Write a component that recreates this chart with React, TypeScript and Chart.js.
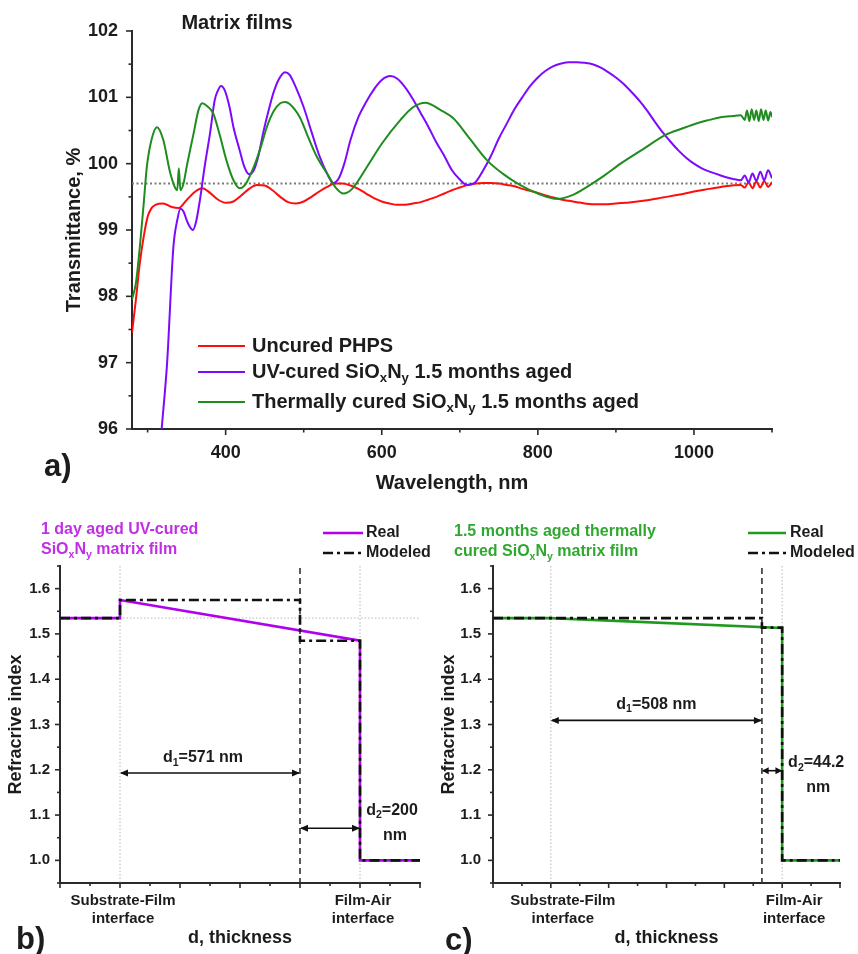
import React, { useEffect, useRef } from 'react';
import { Chart, registerables } from 'chart.js';
Chart.register(...registerables);

const FONT = '"Liberation Sans", Arial, Helvetica, sans-serif';
const AXIS = '#2a2a2a';
const TXT = '#1c1c1c';
const bold = (s: number) => `bold ${s}px ${FONT}`;

// ---------------- Panel a: transmittance spectra ----------------
const wlRed = [
  280, 285, 290, 295, 300, 305, 310, 320, 330, 340,
  345, 350, 360, 370, 380, 390, 400, 410, 420, 430,
  440, 450, 460, 470, 480, 490, 500, 510, 520, 530,
  540, 550, 560, 570, 580, 590, 600, 610, 620, 630,
  640, 650, 660, 670, 680, 690, 700, 710, 720, 730,
  740, 750, 760, 770, 780, 790, 800, 810, 820, 830,
  840, 850, 860, 870, 880, 890, 900, 920, 940, 960,
  980, 1000, 1020, 1040, 1060, 1065, 1070, 1075, 1080, 1085,
  1090, 1095, 1100,
];
const tRed = [
  97.45, 97.95, 98.5, 98.9, 99.2, 99.33, 99.38, 99.4, 99.35, 99.33,
  99.38, 99.45, 99.57, 99.63, 99.56, 99.46, 99.41, 99.43, 99.52, 99.62,
  99.68, 99.67, 99.6, 99.5, 99.42, 99.4, 99.43, 99.5, 99.58, 99.65,
  99.7, 99.7, 99.67, 99.62, 99.55, 99.48, 99.43, 99.4, 99.38, 99.38,
  99.4, 99.42, 99.46, 99.5, 99.55, 99.6, 99.64, 99.68, 99.7, 99.71,
  99.71, 99.7, 99.68, 99.66, 99.62, 99.59, 99.56, 99.52, 99.49, 99.46,
  99.44, 99.42, 99.4, 99.39, 99.39, 99.39, 99.4, 99.42, 99.45, 99.49,
  99.53, 99.58, 99.62, 99.66, 99.68, 99.64, 99.72, 99.63, 99.73, 99.64,
  99.74, 99.65, 99.72,
];

const wlUV = [
  318, 325, 333, 338, 342, 346, 350, 354, 358, 362,
  367, 373, 380, 386, 390, 394, 399, 405, 410, 418,
  424, 430, 436, 442, 448, 455, 461, 468, 476, 482,
  490, 500, 510, 520, 530, 538, 545, 552, 560, 570,
  580, 590, 600, 611, 620, 630, 640, 650, 660, 670,
  680, 690, 700, 709, 720, 730, 740, 750, 760, 770,
  780, 790, 800, 810, 820, 830, 840, 850, 860, 870,
  880, 890, 900, 910, 920, 930, 940, 950, 960, 970,
  980, 990, 1000, 1010, 1020, 1030, 1040, 1050, 1060, 1065,
  1070, 1075, 1080, 1085, 1090, 1095, 1100,
];
const tUV = [
  96.0, 97.0, 98.74, 99.15, 99.32, 99.28, 99.15, 99.05, 99.0, 99.12,
  99.45, 99.95, 100.46, 100.96, 101.1, 101.17, 101.1, 100.85, 100.55, 100.2,
  99.95, 99.84, 99.9, 100.12, 100.46, 100.8, 101.06, 101.27, 101.38, 101.34,
  101.15, 100.85, 100.48, 100.12, 99.85, 99.71, 99.78, 100.0, 100.36, 100.7,
  100.93, 101.12, 101.26, 101.32, 101.28, 101.15, 100.97, 100.76, 100.55, 100.32,
  100.12, 99.9, 99.76, 99.68, 99.72, 99.9, 100.12, 100.38, 100.6, 100.82,
  101.0, 101.17, 101.3, 101.4, 101.47, 101.51, 101.53, 101.53, 101.52, 101.5,
  101.45, 101.38, 101.3, 101.2, 101.08, 100.95, 100.8, 100.63, 100.47, 100.33,
  100.2, 100.09, 100.0, 99.93, 99.88, 99.84, 99.8, 99.77, 99.75, 99.82,
  99.72, 99.85, 99.74, 99.88, 99.75, 99.9, 99.78,
];

const wlTh = [
  280, 285, 290, 295, 299, 305, 312, 320, 329, 336,
  338, 340, 342, 346, 350, 359, 365, 370, 376, 384,
  392, 401, 410, 418, 426, 436, 445, 453, 462, 470,
  476, 482, 495, 505, 517, 530, 541, 551, 562, 581,
  600, 624, 640, 656, 675, 692, 710, 735, 755, 777,
  800, 825, 845, 863, 885, 906, 935, 963, 985, 1004,
  1020, 1034, 1050, 1060, 1065, 1068, 1071, 1074, 1077, 1080,
  1083, 1086, 1089, 1092, 1095, 1098, 1100,
];
const tTh = [
  97.95, 98.2, 98.74, 99.4, 99.95, 100.36, 100.55, 100.36, 99.86, 99.62,
  99.6, 99.93, 99.6, 99.7, 99.95, 100.46, 100.8, 100.91, 100.87, 100.76,
  100.45, 100.05, 99.75, 99.63, 99.7, 99.95, 100.25, 100.56, 100.8, 100.91,
  100.93, 100.9, 100.7, 100.42, 100.1, 99.85, 99.64, 99.55, 99.62, 99.95,
  100.3, 100.66, 100.85, 100.92, 100.81, 100.68, 100.42, 100.05, 99.85, 99.68,
  99.55, 99.47, 99.53, 99.65, 99.82, 100.0, 100.22, 100.43, 100.53, 100.61,
  100.66, 100.7, 100.72, 100.73, 100.66, 100.8, 100.64, 100.82, 100.66, 100.8,
  100.64, 100.82, 100.66, 100.8, 100.65, 100.78, 100.7,
];

const refWl = [280, 1100];
const refT = [99.7, 99.7];

const aXTicks = [400, 600, 800, 1000];
const aXMinor = [300, 500, 700, 900, 1100];
const aYTicks = [96, 97, 98, 99, 100, 101, 102];
const aYMinor = [96.5, 97.5, 98.5, 99.5, 100.5, 101.5];
const aLegend = [
  'Uncured PHPS',
  'UV-cured SiO_{x}N_{y} 1.5 months aged',
  'Thermally cured SiO_{x}N_{y} 1.5 months aged',
];

const RED = '#ff0d0d';
const VIOLET = '#7d0aff';
const GREEN = '#1f8c1f';

// ---------------- Panels b, c: refractive index profiles ----------------
const bRealX = [0, 2, 2, 10, 10, 12];
const bRealY = [1.535, 1.535, 1.575, 1.485, 1.0, 1.0];
const bModX = [0, 2, 2, 8, 8, 10, 10, 12];
const bModY = [1.535, 1.535, 1.575, 1.575, 1.485, 1.485, 1.0, 1.0];
const bInterfaces = [2, 10];
const bBoundary = 8;

const cRealX = [0, 2, 10, 10, 12];
const cRealY = [1.535, 1.535, 1.513, 1.0, 1.0];
const cModX = [0, 9.3, 9.3, 10, 10, 12];
const cModY = [1.535, 1.535, 1.514, 1.514, 1.0, 1.0];
const cInterfaces = [2, 10];
const cBoundary = 9.3;

const pYTicks = [1.0, 1.1, 1.2, 1.3, 1.4, 1.5, 1.6];
const pYMinor = [0.95, 1.05, 1.15, 1.25, 1.35, 1.45, 1.55, 1.65];
const pXMajor = [0, 2, 4, 6, 8, 10, 12];
const pXMinor = [1, 3, 5, 7, 9, 11];
const pTickLabels = [['Substrate-Film', 'interface'], ['Film-Air', 'interface']];
const pLegend = ['Real', 'Modeled'];

// ---------------- helpers ----------------
function parseRich(s: string) {
  const out: { t: string; sub: boolean }[] = [];
  const re = /_\{([^}]*)\}/g;
  let last = 0;
  let m: RegExpExecArray | null;
  while ((m = re.exec(s))) {
    if (m.index > last) out.push({ t: s.slice(last, m.index), sub: false });
    out.push({ t: m[1], sub: true });
    last = re.lastIndex;
  }
  if (last < s.length) out.push({ t: s.slice(last), sub: false });
  return out;
}

function drawRich(ctx: CanvasRenderingContext2D, s: string, x: number, y: number, size: number, color: string, align: 'left' | 'center' | 'right' = 'left') {
  const segs = parseRich(s);
  const subSize = size * 0.66;
  ctx.save();
  ctx.fillStyle = color;
  ctx.textBaseline = 'middle';
  ctx.textAlign = 'left';
  let w = 0;
  for (const g of segs) {
    ctx.font = bold(g.sub ? subSize : size);
    w += ctx.measureText(g.t).width;
  }
  let cx = align === 'center' ? x - w / 2 : align === 'right' ? x - w : x;
  for (const g of segs) {
    ctx.font = bold(g.sub ? subSize : size);
    ctx.fillText(g.t, cx, g.sub ? y + size * 0.32 : y);
    cx += ctx.measureText(g.t).width;
  }
  ctx.restore();
}

function seg(ctx: CanvasRenderingContext2D, x1: number, y1: number, x2: number, y2: number) {
  ctx.beginPath();
  ctx.moveTo(x1, y1);
  ctx.lineTo(x2, y2);
  ctx.stroke();
}

function drawArrow(ctx: CanvasRenderingContext2D, x1: number, x2: number, y: number) {
  const len = Math.abs(x2 - x1);
  const h = Math.min(8, len / 3);
  const w = 3.5;
  ctx.save();
  ctx.strokeStyle = '#111';
  ctx.fillStyle = '#111';
  ctx.lineWidth = 1.6;
  seg(ctx, x1 + 1, y, x2 - 1, y);
  ctx.beginPath();
  ctx.moveTo(x1, y); ctx.lineTo(x1 + h, y - w); ctx.lineTo(x1 + h, y + w); ctx.closePath(); ctx.fill();
  ctx.beginPath();
  ctx.moveTo(x2, y); ctx.lineTo(x2 - h, y - w); ctx.lineTo(x2 - h, y + w); ctx.closePath(); ctx.fill();
  ctx.restore();
}

function drawTicks(chart: any, major: number[], minor: number[], majLen: number, minLen: number, axis: 'x' | 'y') {
  const { ctx, chartArea } = chart;
  const s = chart.scales[axis];
  ctx.save();
  ctx.strokeStyle = AXIS;
  ctx.lineWidth = 1.6;
  const one = (v: number, len: number) => {
    const p = s.getPixelForValue(v);
    if (axis === 'x') seg(ctx, p, chartArea.bottom, p, chartArea.bottom + len);
    else seg(ctx, chartArea.left, p, chartArea.left - len, p);
  };
  major.forEach((v) => one(v, majLen));
  minor.forEach((v) => one(v, minLen));
  ctx.restore();
}

const pts = (xs: number[], ys: number[]) => xs.map((x, i) => ({ x, y: ys[i] }));

// ---------------- chart builders ----------------
function makeTop(canvas: HTMLCanvasElement) {
  const legendColors = [RED, VIOLET, GREEN];
  const legendRows = [346, 372, 402];
  const plugin = {
    id: 'panelA',
    afterDraw(chart: any) {
      const ctx = chart.ctx;
      drawTicks(chart, aXTicks, aXMinor, 6, 3.5, 'x');
      drawTicks(chart, aYTicks, aYMinor, 6, 3.5, 'y');
      drawRich(ctx, 'Matrix films', 237, 23, 20, TXT, 'center');
      aLegend.forEach((t, i) => {
        ctx.save();
        ctx.strokeStyle = legendColors[i];
        ctx.lineWidth = 2.2;
        seg(ctx, 198, legendRows[i], 245, legendRows[i]);
        ctx.restore();
        drawRich(ctx, t, 252, legendRows[i], 20, TXT, 'left');
      });
      drawRich(ctx, 'a)', 44, 467, 31, TXT, 'left');
    },
  };
  return new Chart(canvas, {
    type: 'line',
    data: {
      datasets: [
        { label: 'Thermally cured', data: pts(wlTh, tTh), borderColor: GREEN, borderWidth: 2, pointRadius: 0, cubicInterpolationMode: 'monotone', order: 0 },
        { label: 'UV-cured', data: pts(wlUV, tUV), borderColor: VIOLET, borderWidth: 2, pointRadius: 0, cubicInterpolationMode: 'monotone', order: 1 },
        { label: 'Uncured PHPS', data: pts(wlRed, tRed), borderColor: RED, borderWidth: 2, pointRadius: 0, cubicInterpolationMode: 'monotone', order: 2 },
        { label: 'ref', data: pts(refWl, refT), borderColor: '#7a7a7a', borderWidth: 2, borderDash: [2, 2.5], pointRadius: 0, order: 3 },
      ],
    },
    options: {
      animation: false,
      responsive: false,
      layout: { autoPadding: false, padding: { left: 62, top: 31, right: 86, bottom: 5 } },
      plugins: { legend: { display: false }, tooltip: { enabled: false } },
      scales: {
        x: {
          type: 'linear', min: 280, max: 1100,
          afterBuildTicks: (s: any) => { s.ticks = aXTicks.map((v) => ({ value: v })); },
          afterFit: (s: any) => { s.height = 66; },
          grid: { display: false, drawTicks: false },
          border: { display: true, color: AXIS, width: 2 },
          ticks: { font: { family: FONT, size: 18, weight: 'bold' }, color: TXT, padding: 13, maxRotation: 0, autoSkip: false, callback: (v: any) => String(v) },
          title: { display: true, text: 'Wavelength, nm', color: TXT, font: { family: FONT, size: 20, weight: 'bold' }, padding: { top: 0, bottom: 0 } },
        },
        y: {
          type: 'linear', min: 96, max: 102,
          afterBuildTicks: (s: any) => { s.ticks = aYTicks.map((v) => ({ value: v })); },
          afterFit: (s: any) => { s.width = 70; },
          grid: { display: false, drawTicks: false },
          border: { display: true, color: AXIS, width: 2 },
          ticks: { font: { family: FONT, size: 18, weight: 'bold' }, color: TXT, padding: 14, autoSkip: false, callback: (v: any) => String(v) },
          title: { display: true, text: 'Transmittance, %', color: TXT, font: { family: FONT, size: 20, weight: 'bold' }, padding: { top: 0, bottom: 0 } },
        },
      },
    } as any,
    plugins: [plugin],
  });
}

interface Panel {
  key: string;
  realX: number[]; realY: number[]; modX: number[]; modY: number[];
  realColor: string; titleColor: string; title: string[];
  titleX: number; titleY: number[];
  legend: { x1: number; x2: number; tx: number; y: number[] };
  interfaces: number[]; boundary: number; refLevel: number | null;
  d1: { at: number; text: string; dx: number; dy: number };
  d2: { at: number; lines: string[]; dx: number[]; dy: number[] };
  labelOffset: number; yWidth: number; padRight: number; yTitlePad: number; yTickPad: number;
  letter: string; letterX: number; letterY: number;
}

const panelB: Panel = {
  key: 'b',
  realX: bRealX, realY: bRealY, modX: bModX, modY: bModY,
  realColor: '#b000ee', titleColor: '#c02fe4',
  title: ['1 day aged UV-cured', 'SiO_{x}N_{y} matrix film'],
  titleX: 41, titleY: [40, 60],
  legend: { x1: 323, x2: 363, tx: 366, y: [43, 63] },
  interfaces: bInterfaces, boundary: bBoundary, refLevel: 1.535,
  d1: { at: 1.193, text: 'd_{1}=571 nm', dx: -7, dy: -15 },
  d2: { at: 1.071, lines: ['d_{2}=200', 'nm'], dx: [32, 35], dy: [-18, 7] },
  labelOffset: 3, yWidth: 60, padRight: 10, yTitlePad: 5, yTickPad: 10,
  letter: 'b)', letterX: 16, letterY: 450,
};

const panelC: Panel = {
  key: 'c',
  realX: cRealX, realY: cRealY, modX: cModX, modY: cModY,
  realColor: '#1f9a1f', titleColor: '#30a830',
  title: ['1.5 months aged thermally', 'cured SiO_{x}N_{y} matrix film'],
  titleX: 26, titleY: [42, 62],
  legend: { x1: 320, x2: 358, tx: 362, y: [43, 63] },
  interfaces: cInterfaces, boundary: cBoundary, refLevel: null,
  d1: { at: 1.309, text: 'd_{1}=508 nm', dx: 0, dy: -16 },
  d2: { at: 1.198, lines: ['d_{2}=44.2', 'nm'], dx: [34, 36], dy: [-8, 17] },
  labelOffset: 12, yWidth: 65, padRight: 18, yTitlePad: 10, yTickPad: 12,
  letter: 'c)', letterX: 17, letterY: 451,
};

function makeProfile(canvas: HTMLCanvasElement, p: Panel) {
  const plugin = {
    id: 'panel' + p.key,
    beforeDatasetsDraw(chart: any) {
      const { ctx, chartArea: { left, right, top, bottom }, scales: { x, y } } = chart;
      ctx.save();
      ctx.strokeStyle = '#b8b8b8';
      ctx.lineWidth = 1;
      ctx.setLineDash([1.5, 2]);
      p.interfaces.forEach((v) => { const px = x.getPixelForValue(v); seg(ctx, px, top, px, bottom); });
      if (p.refLevel != null) { const py = y.getPixelForValue(p.refLevel); seg(ctx, left, py, right, py); }
      ctx.setLineDash([6, 4]);
      ctx.strokeStyle = '#333';
      ctx.lineWidth = 1.6;
      const bx = x.getPixelForValue(p.boundary);
      seg(ctx, bx, top + 2, bx, bottom);
      ctx.restore();
    },
    afterDraw(chart: any) {
      const { ctx, scales: { x, y } } = chart;
      drawTicks(chart, pXMajor, pXMinor, 5, 3, 'x');
      drawTicks(chart, pYTicks, pYMinor, 5, 3, 'y');
      // d1 arrow
      const x0 = x.getPixelForValue(p.interfaces[0]);
      const xb = x.getPixelForValue(p.boundary);
      const xe = x.getPixelForValue(p.interfaces[1]);
      const y1 = y.getPixelForValue(p.d1.at);
      drawArrow(ctx, x0, xb, y1);
      drawRich(ctx, p.d1.text, (x0 + xb) / 2 + p.d1.dx, y1 + p.d1.dy, 16, TXT, 'center');
      const y2 = y.getPixelForValue(p.d2.at);
      drawArrow(ctx, xb, xe, y2);
      p.d2.lines.forEach((t, i) => drawRich(ctx, t, xe + p.d2.dx[i], y2 + p.d2.dy[i], 16, TXT, 'center'));
      // title
      p.title.forEach((t, i) => drawRich(ctx, t, p.titleX, p.titleY[i], 16, p.titleColor, 'left'));
      // legend
      ctx.save();
      ctx.lineWidth = 2.6;
      ctx.strokeStyle = p.realColor;
      seg(ctx, p.legend.x1, p.legend.y[0], p.legend.x2, p.legend.y[0]);
      ctx.strokeStyle = '#111';
      ctx.setLineDash([10, 4, 3, 4]);
      seg(ctx, p.legend.x1, p.legend.y[1], p.legend.x2, p.legend.y[1]);
      ctx.restore();
      pLegend.forEach((t, i) => drawRich(ctx, t, p.legend.tx, p.legend.y[i], 16, TXT, 'left'));
      drawRich(ctx, p.letter, p.letterX, p.letterY, 31, TXT, 'left');
    },
  };
  return new Chart(canvas, {
    type: 'line',
    data: {
      datasets: [
        { label: 'Modeled', data: pts(p.modX, p.modY), borderColor: '#111', borderWidth: 2.6, borderDash: [10, 4, 3, 4], pointRadius: 0, tension: 0, order: 0 },
        { label: 'Real', data: pts(p.realX, p.realY), borderColor: p.realColor, borderWidth: 2.6, pointRadius: 0, tension: 0, order: 1 },
      ],
    },
    options: {
      animation: false,
      responsive: false,
      layout: { autoPadding: false, padding: { left: 0, top: 76, right: p.padRight, bottom: 5 } },
      plugins: { legend: { display: false }, tooltip: { enabled: false } },
      scales: {
        x: {
          type: 'linear', min: 0, max: 12,
          afterBuildTicks: (s: any) => { s.ticks = p.interfaces.map((v) => ({ value: v })); },
          afterFit: (s: any) => { s.height = 66; },
          grid: { display: false, drawTicks: false },
          border: { display: true, color: AXIS, width: 2 },
          ticks: {
            font: { family: FONT, size: 15, weight: 'bold', lineHeight: 1.25 }, color: TXT, padding: 8,
            maxRotation: 0, autoSkip: false, labelOffset: p.labelOffset,
            callback: (_v: any, i: number) => pTickLabels[i],
          },
          title: { display: true, text: 'd, thickness', color: TXT, font: { family: FONT, size: 18, weight: 'bold' }, padding: { top: 0, bottom: 0 } },
        },
        y: {
          type: 'linear', min: 0.95, max: 1.65,
          afterBuildTicks: (s: any) => { s.ticks = pYTicks.map((v) => ({ value: v })); },
          afterFit: (s: any) => { s.width = p.yWidth; },
          grid: { display: false, drawTicks: false },
          border: { display: true, color: AXIS, width: 2 },
          ticks: { font: { family: FONT, size: 15, weight: 'bold' }, color: TXT, padding: p.yTickPad, autoSkip: false, callback: (v: any) => Number(v).toFixed(1) },
          title: { display: true, text: 'Refracrive index', color: TXT, font: { family: FONT, size: 18, weight: 'bold' }, padding: { top: p.yTitlePad, bottom: 0 } },
        },
      },
    } as any,
    plugins: [plugin],
  });
}

export default function App() {
  const aRef = useRef<HTMLCanvasElement>(null);
  const bRef = useRef<HTMLCanvasElement>(null);
  const cRef = useRef<HTMLCanvasElement>(null);
  useEffect(() => {
    const charts = [
      makeTop(aRef.current!),
      makeProfile(bRef.current!, panelB),
      makeProfile(cRef.current!, panelC),
    ];
    return () => charts.forEach((c) => c.destroy());
  }, []);
  return (
    <div style={{ position: 'absolute', left: 0, top: 0, width: 858, height: 954, background: '#fff', overflow: 'hidden' }}>
      <canvas ref={aRef} width={858} height={500} style={{ position: 'absolute', left: 0, top: 0 }} />
      <canvas ref={bRef} width={430} height={464} style={{ position: 'absolute', left: 0, top: 490 }} />
      <canvas ref={cRef} width={430} height={464} style={{ position: 'absolute', left: 428, top: 490 }} />
    </div>
  );
}
